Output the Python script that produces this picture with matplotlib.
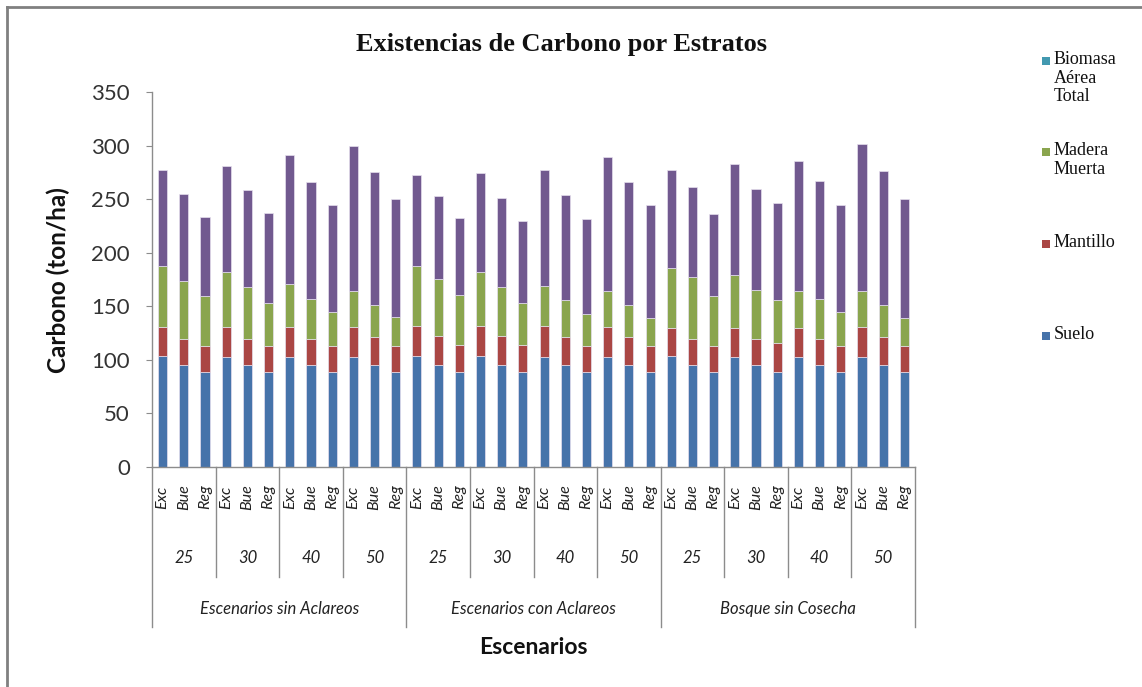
import matplotlib
matplotlib.use("Agg")
import matplotlib.pyplot as plt
from matplotlib.patches import Rectangle
from matplotlib.lines import Line2D
import numpy as np

# Category hierarchy
scenarios = ["Escenarios sin Aclareos", "Escenarios con Aclareos", "Bosque sin Cosecha"]
ages = ["25", "30", "40", "50"]
qualities = ["Exc", "Bue", "Reg"]

# Carbon stocks per stratum (ton/ha), one value per bar
suelo = [104.0, 95.6, 88.5, 102.8, 95.6, 88.5, 102.8, 95.6, 88.5, 102.8, 95.6, 88.5,
         104.0, 95.6, 88.5, 104.0, 95.6, 88.5, 102.8, 95.6, 88.5, 102.8, 95.6, 88.5,
         104.0, 95.6, 88.5, 102.8, 95.6, 88.5, 102.8, 95.6, 88.5, 102.8, 95.6, 88.5]
mantillo = [26.5, 24.0, 24.0, 27.7, 24.0, 24.0, 27.7, 24.0, 24.0, 27.7, 25.3, 24.0,
            27.8, 26.5, 25.2, 27.8, 26.5, 25.2, 29.0, 25.3, 24.0, 27.7, 25.3, 24.0,
            25.3, 24.0, 24.0, 26.5, 24.0, 27.7, 26.5, 24.0, 24.0, 27.7, 25.3, 24.0]
madera_muerta = [57.4, 53.9, 46.7, 51.4, 48.0, 40.8, 40.5, 37.1, 32.4, 33.4, 29.9, 27.7,
                 56.1, 53.6, 46.7, 50.1, 45.5, 39.6, 37.0, 34.6, 29.9, 33.4, 29.9, 26.4,
                 56.0, 57.3, 46.7, 50.1, 45.5, 39.3, 34.6, 37.1, 32.4, 33.4, 29.9, 26.4]
biomasa = [89.7, 81.3, 74.1, 99.4, 91.0, 83.8, 120.0, 109.0, 99.3, 135.6, 124.6, 110.0,
           85.0, 76.9, 72.0, 92.2, 83.8, 76.6, 108.8, 98.4, 88.8, 125.8, 114.9, 105.3,
           92.3, 84.1, 76.6, 103.2, 94.7, 91.2, 122.1, 110.3, 99.3, 137.6, 125.8, 111.3]

legend_labels = ["Biomasa\nAérea\nTotal", "Madera\nMuerta", "Mantillo", "Suelo"]

C_BLUE = "#4673AA"
C_RED = "#AA4644"
C_GREEN = "#8AA54E"
C_PURPLE = "#71598F"
C_TEAL = "#4299B0"
GRID = "#8C8C8C"

SANS = ["Lato", "DejaVu Sans"]
SERIF = ["Liberation Serif", "DejaVu Serif"]

W, H = 1142, 687
fig = plt.figure(figsize=(W / 100, H / 100), dpi=100)
ax = fig.add_axes([152 / W, 1 - 467 / H, (915 - 152) / W, (467 - 92) / H])

n = len(suelo)
x = np.arange(n)
bw = 0.43
bottom = np.zeros(n)
for vals, col in [(suelo, C_BLUE), (mantillo, C_RED), (madera_muerta, C_GREEN), (biomasa, C_PURPLE)]:
    v = np.array(vals)
    ax.bar(x, v, bw, bottom=bottom, color=col, edgecolor="#E6E0EE", linewidth=0.5)
    bottom += v

ax.set_xlim(-0.5, n - 0.5)
ax.set_ylim(0, 350)
ax.set_yticks(np.arange(0, 351, 50))
ax.tick_params(axis="y", labelsize=16, length=4, color=GRID, pad=12)
for lab in ax.get_yticklabels():
    lab.set_family(SANS)
    lab.set_color("#333333")
ax.set_xticks([])
for s in ["top", "right"]:
    ax.spines[s].set_visible(False)
for s in ["left", "bottom"]:
    ax.spines[s].set_color(GRID)
    ax.spines[s].set_linewidth(1.0)

# Multi-level category axis, positions in pixels below the plot
trans = ax.get_xaxis_transform()
def ypx(py):
    return (467 - py) / (467 - 92)

CAT_FS = 12
for i in range(n):
    ax.text(x[i], ypx(497), qualities[i % 3], rotation=90, ha="center", va="center",
            fontsize=11.5, style="italic", family=SANS, color="#222222",
            transform=trans, clip_on=False)

n_age = len(ages)
for s_i, scen in enumerate(scenarios):
    for a_i, age in enumerate(ages):
        start = (s_i * n_age + a_i) * 3 - 0.5
        ax.text(start + 1.5, ypx(558), age, ha="center", va="center", fontsize=CAT_FS,
                style="italic", family=SANS, color="#222222", transform=trans, clip_on=False)
        if a_i > 0:
            ax.add_line(Line2D([start, start], [ypx(467), ypx(577)], color=GRID, lw=1.0,
                               transform=trans, clip_on=False))
    s0 = s_i * n_age * 3 - 0.5
    ax.text(s0 + n_age * 1.5, ypx(609), scen, ha="center", va="center", fontsize=CAT_FS,
            style="italic", family=SANS, color="#222222", transform=trans, clip_on=False)
    ax.add_line(Line2D([s0, s0], [ypx(467), ypx(627)], color=GRID, lw=1.0,
                       transform=trans, clip_on=False))
ax.add_line(Line2D([n - 0.5, n - 0.5], [ypx(467), ypx(627)], color=GRID, lw=1.0,
                   transform=trans, clip_on=False))

# Titles
fig.text(561 / W, 1 - 45 / H, "Existencias de Carbono por Estratos", ha="center", va="center",
         fontsize=19, fontweight="bold", family=SERIF, color="#111111")
fig.text(533 / W, 1 - 647 / H, "Escenarios", ha="center", va="center",
         fontsize=16.5, fontweight="bold", family=SANS, color="#111111")
fig.text(58 / W, 1 - 280 / H, "Carbono (ton/ha)", ha="center", va="center", rotation=90,
         fontsize=17.5, fontweight="bold", family=SANS, color="#111111")

# Legend
leg_colors = [C_TEAL, C_GREEN, C_RED, C_BLUE]
leg_y = [61, 152, 244, 336]
for lab, col, py in zip(legend_labels, leg_colors, leg_y):
    fig.add_artist(Rectangle((1042 / W, 1 - (py + 4) / H), 8 / W, 8 / H,
                             transform=fig.transFigure, facecolor=col, edgecolor="none"))
    fig.text(1054 / W, 1 - (py - 10) / H, lab, ha="left", va="top", fontsize=13,
             family=SERIF, color="#111111", linespacing=1.12)

# Outer frame
fig.add_artist(Line2D([7 / W, 7 / W], [0, 1 - 7 / H], color="#808080", lw=2,
                      transform=fig.transFigure))
fig.add_artist(Line2D([7 / W, 1], [1 - 7 / H, 1 - 7 / H], color="#808080", lw=2,
                      transform=fig.transFigure))

fig.savefig("out.png", dpi=100, facecolor="white")
